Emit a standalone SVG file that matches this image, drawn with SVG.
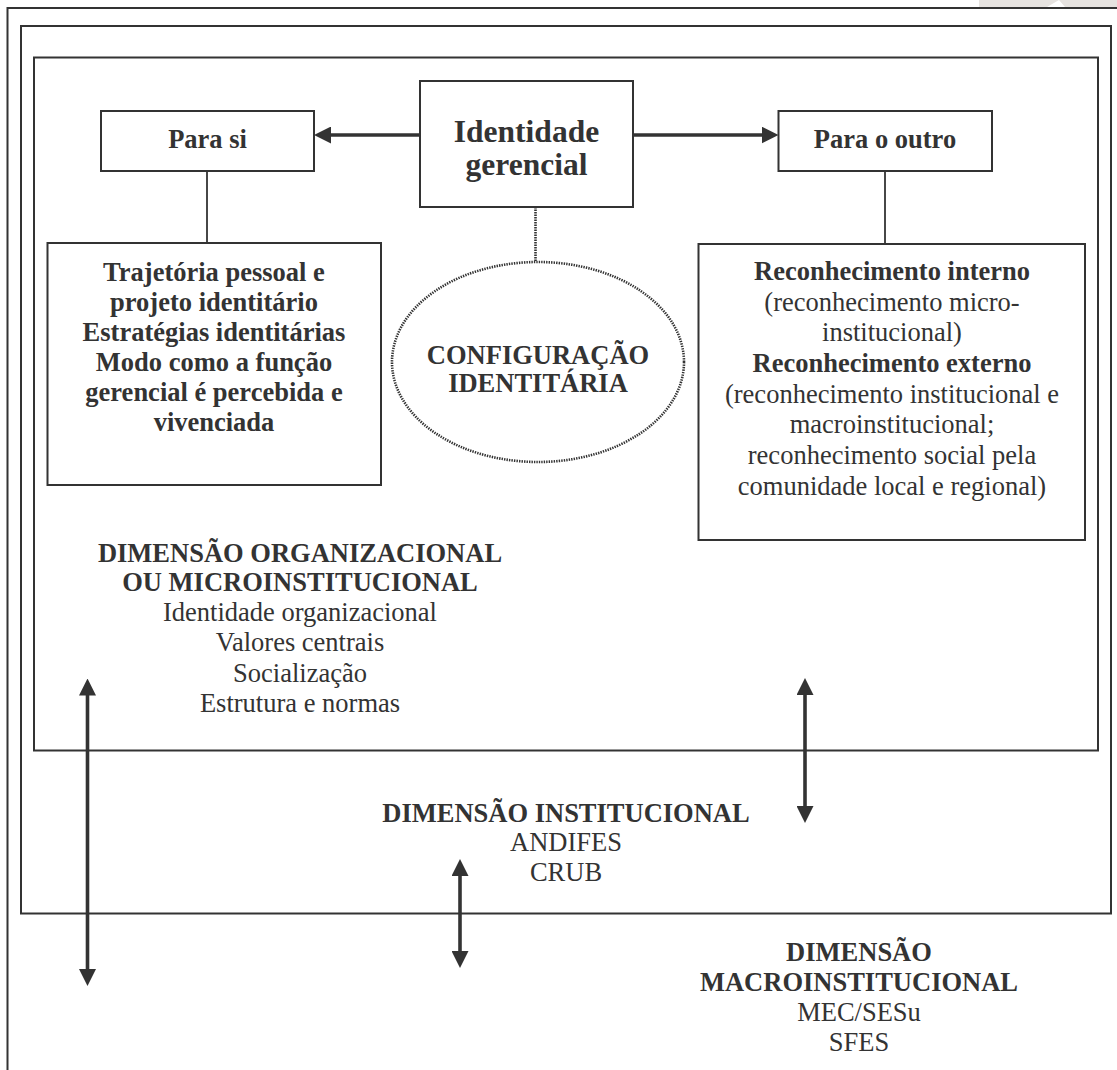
<svg xmlns="http://www.w3.org/2000/svg" width="1117" height="1070" viewBox="0 0 1117 1070">
<style>
.frame{fill:none;stroke:#333;stroke-width:2}
.box{fill:#fff;stroke:#333;stroke-width:2}
.ln{fill:none;stroke:#333;stroke-width:1.8}
.arr{fill:none;stroke:#333;stroke-width:3.6}
.dot{fill:none;stroke:#333;stroke-width:2.6;stroke-dasharray:1.4 1.1}
text{font-family:"Liberation Serif","Times New Roman",serif;fill:#333;font-size:26.5px;text-anchor:middle}
.b{font-weight:bold}
.big{font-size:31.5px;font-weight:bold}
</style>
<defs>
<marker id="ah" markerUnits="userSpaceOnUse" markerWidth="17" markerHeight="17" viewBox="0 0 17 17" refX="7" refY="8.5" orient="auto-start-reverse">
<path d="M0,0 L17,8.5 L0,17 Z" fill="#333"/>
</marker>
</defs>
<rect width="1117" height="1070" fill="#fff"/>
<g id="watermark">
<polygon points="979,0 1117,0 1117,7 1065,7 1059,0 1047,7 979,7" fill="#e6e3e0"/>
</g>
<g id="frames">
<path class="frame" d="M1117,8 H7.5 V1070"/>
<rect id="dim-institucional-frame" class="frame" x="21" y="26" width="1090" height="887.5"/>
<rect id="dim-organizacional-frame" class="frame" x="34" y="57.5" width="1064" height="693"/>
</g>
<g id="connectors">
<line class="arr" x1="420" y1="135" x2="324" y2="135" marker-end="url(#ah)"/>
<line class="arr" x1="633" y1="135" x2="768.5" y2="135" marker-end="url(#ah)"/>
<line class="ln" x1="207" y1="171" x2="207" y2="243"/>
<line class="ln" x1="885" y1="171" x2="885" y2="244"/>
<line class="dot" x1="535.5" y1="207" x2="535.5" y2="262"/>
<line class="arr" x1="87.5" y1="688.5" x2="87.5" y2="976" marker-start="url(#ah)" marker-end="url(#ah)"/>
<line class="arr" x1="805" y1="688" x2="805" y2="813" marker-start="url(#ah)" marker-end="url(#ah)"/>
<line class="arr" x1="460" y1="869" x2="460" y2="958" marker-start="url(#ah)" marker-end="url(#ah)"/>
</g>
<g id="identidade-gerencial">
<rect class="box" x="420" y="81" width="213" height="126"/>
<text class="big" x="526.5" y="142">Identidade</text>
<text class="big" x="526.5" y="175">gerencial</text>
</g>
<g id="para-si">
<rect class="box" x="101" y="111" width="213" height="60"/>
<text class="b" x="207.5" y="148">Para si</text>
</g>
<g id="para-o-outro">
<rect class="box" x="778.5" y="111" width="213.5" height="60"/>
<text class="b" x="885" y="148">Para o outro</text>
</g>
<g id="para-si-detalhe">
<rect class="box" x="47.5" y="243" width="333.5" height="242"/>
<text class="b" x="214" y="281">Trajetória pessoal e</text>
<text class="b" x="214" y="311">projeto identitário</text>
<text class="b" x="214" y="341">Estratégias identitárias</text>
<text class="b" x="214" y="371">Modo como a função</text>
<text class="b" x="214" y="401">gerencial é percebida e</text>
<text class="b" x="214" y="431">vivenciada</text>
</g>
<g id="configuracao-identitaria">
<ellipse class="dot" cx="538" cy="362" rx="146" ry="100"/>
<text class="b" x="538" y="364">CONFIGURAÇÃO</text>
<text class="b" x="538" y="392">IDENTITÁRIA</text>
</g>
<g id="para-o-outro-detalhe">
<rect class="box" x="698.5" y="244" width="386.5" height="296"/>
<text class="b" x="892" y="280">Reconhecimento interno</text>
<text x="892" y="311">(reconhecimento micro-</text>
<text x="892" y="341">institucional)</text>
<text class="b" x="892" y="372">Reconhecimento externo</text>
<text x="892" y="403">(reconhecimento institucional e</text>
<text x="892" y="433">macroinstitucional;</text>
<text x="892" y="464">reconhecimento social pela</text>
<text x="892" y="495">comunidade local e regional)</text>
</g>
<g id="dimensao-organizacional">
<text class="b" x="300" y="562">DIMENSÃO ORGANIZACIONAL</text>
<text class="b" x="300" y="591">OU MICROINSTITUCIONAL</text>
<text x="300" y="621">Identidade organizacional</text>
<text x="300" y="651">Valores centrais</text>
<text x="300" y="682">Socialização</text>
<text x="300" y="712">Estrutura e normas</text>
</g>
<g id="dimensao-institucional">
<text class="b" x="566" y="822">DIMENSÃO INSTITUCIONAL</text>
<text x="566" y="851">ANDIFES</text>
<text x="566" y="881">CRUB</text>
</g>
<g id="dimensao-macroinstitucional">
<text class="b" x="859" y="961">DIMENSÃO</text>
<text class="b" x="859" y="991">MACROINSTITUCIONAL</text>
<text x="859" y="1021">MEC/SESu</text>
<text x="859" y="1051">SFES</text>
</g>
</svg>
